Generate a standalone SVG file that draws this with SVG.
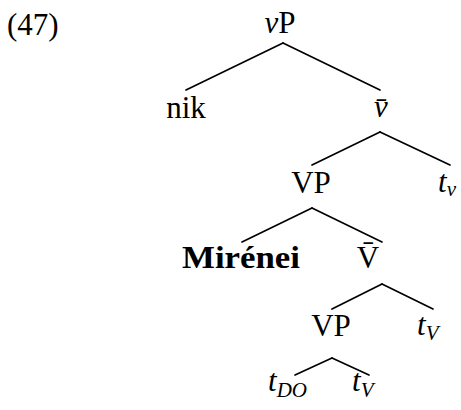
<svg xmlns="http://www.w3.org/2000/svg" width="461" height="410" viewBox="0 0 461 410">
<style>
text{font-family:"Liberation Serif","Times New Roman",serif;font-size:31px;fill:#000}
.m{text-anchor:middle}
.i{font-style:italic}
.b{font-weight:bold}
.s{font-size:21px;font-style:italic}
line{stroke:#000;stroke-width:1.7;stroke-linecap:round}
</style>
<rect width="461" height="410" fill="#fff"/>
<text id="ex" x="7" y="35">(47)</text>
<g id="connectors">
<line x1="283" y1="43" x2="186" y2="90"/>
<line x1="283" y1="43" x2="380" y2="90"/>
<line x1="380" y1="132" x2="312" y2="165"/>
<line x1="380" y1="132" x2="450" y2="165"/>
<line x1="312" y1="208" x2="242" y2="242"/>
<line x1="312" y1="208" x2="382" y2="242"/>
<line x1="382" y1="284" x2="332" y2="309"/>
<line x1="382" y1="284" x2="433" y2="309"/>
<line x1="332" y1="358" x2="295" y2="375"/>
<line x1="332" y1="358" x2="369" y2="375"/>
</g>
<g id="vP"><text class="m" x="280" y="33"><tspan class="i">v</tspan>P</text></g>
<g id="nik"><text class="m" x="186" y="118">nik</text></g>
<g id="vbar"><text class="m i" x="381" y="117">v̄</text></g>
<g id="VP1"><text class="m" x="311" y="193">VP</text></g>
<g id="tv"><text x="438" y="192"><tspan class="i">t</tspan><tspan class="s" dy="4">v</tspan></text></g>
<g id="Mirenei"><text class="m b" x="241" y="268" textLength="118" lengthAdjust="spacingAndGlyphs">Mirénei</text></g>
<g id="Vbar"><text class="m" x="368" y="268">V̄</text></g>
<g id="VP2"><text class="m" x="331" y="336">VP</text></g>
<g id="tV1"><text x="417" y="335"><tspan class="i">t</tspan><tspan class="s" dy="5">V</tspan></text></g>
<g id="tDO"><text x="268" y="391"><tspan class="i">t</tspan><tspan class="s" dy="6">DO</tspan></text></g>
<g id="tV2"><text x="352" y="391"><tspan class="i">t</tspan><tspan class="s" dy="6">V</tspan></text></g>
</svg>
